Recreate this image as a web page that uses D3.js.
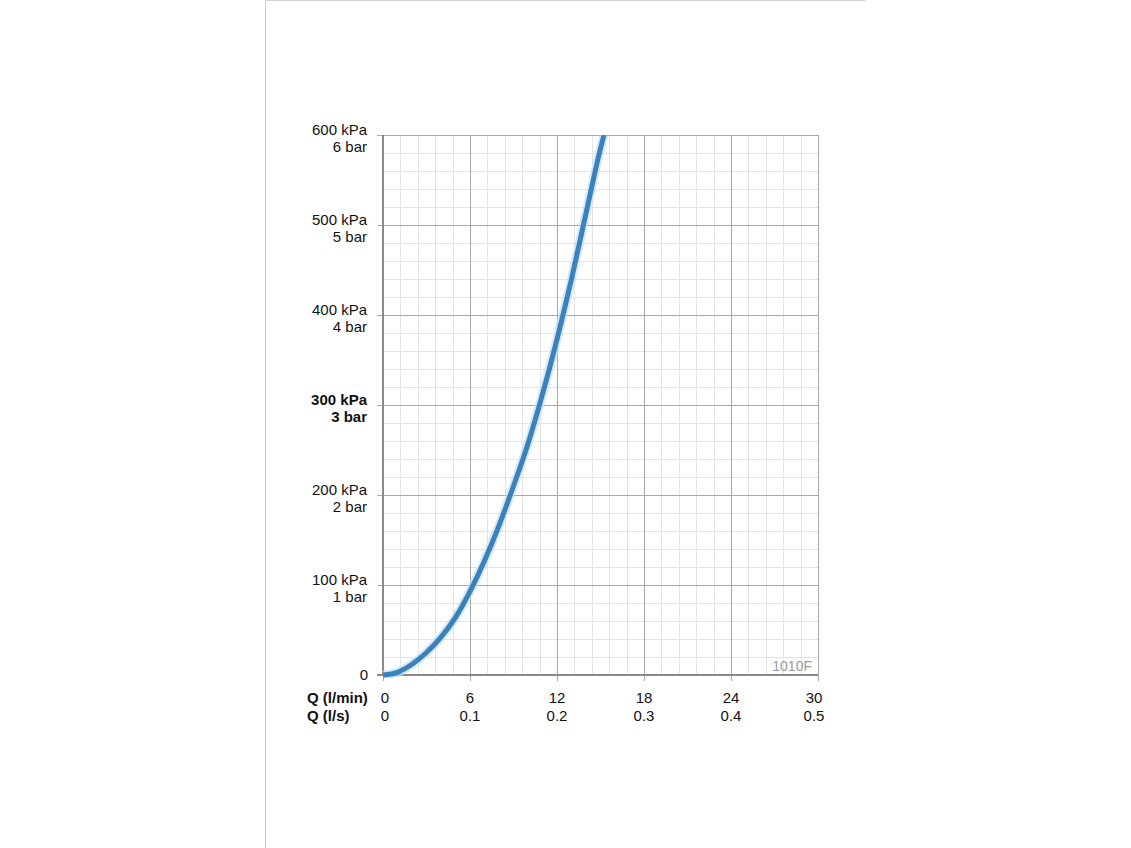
<!DOCTYPE html>
<html>
<head>
<meta charset="utf-8">
<script src="https://cdn.jsdelivr.net/npm/d3@7/dist/d3.min.js"></script>
<style>
  html, body { margin: 0; padding: 0; background: #ffffff; }
  svg { display: block; }
  text { font-family: "Liberation Sans", Arial, Helvetica, sans-serif; }
</style>
</head>
<body>
<svg id="chart" width="1131" height="848"></svg>
<script>
// ---- Data ----
const flowLpm = [0, 1, 2, 3, 4, 5, 6, 7, 8, 9, 10, 11, 12, 13, 14, 15, 15.24];
const pressureKPa = [0, 3, 12, 25, 42, 64, 93, 127, 166, 210, 257, 312, 373, 440, 513, 585, 600];

const yTickKPa = [0, 100, 200, 300, 400, 500, 600];
const yTickKPaLabels = ["0", "100 kPa", "200 kPa", "300 kPa", "400 kPa", "500 kPa", "600 kPa"];
const yTickBarLabels = ["", "1 bar", "2 bar", "3 bar", "4 bar", "5 bar", "6 bar"];
const yBoldTick = 300;

const xTickLpm = [0, 6, 12, 18, 24, 30];
const xTickLpmLabels = ["0", "6", "12", "18", "24", "30"];
const xTickLpsLabels = ["0", "0.1", "0.2", "0.3", "0.4", "0.5"];
const xAxisTitles = ["Q (l/min)", "Q (l/s)"];
const modelLabel = "1010F";

// ---- Layout ----
const svg = d3.select("#chart");
const plot = { left: 383, right: 818, top: 135, bottom: 675 };

// page frame
svg.append("line").attr("x1", 265.5).attr("x2", 265.5).attr("y1", 0).attr("y2", 848)
  .attr("stroke", "#d0d0d0").attr("stroke-width", 1);
svg.append("line").attr("x1", 265).attr("x2", 865).attr("y1", 0.5).attr("y2", 0.5)
  .attr("stroke", "#d0d0d0").attr("stroke-width", 1);

const x = d3.scaleLinear().domain([0, 30]).range([plot.left, plot.right]);
const y = d3.scaleLinear().domain([0, 600]).range([plot.bottom, plot.top]);

const g = svg.append("g");

// minor grid
const minorX = d3.range(0, 30.0001, 1.2);
const minorY = d3.range(0, 600.0001, 20);
g.append("g").selectAll("line").data(minorX).join("line")
  .attr("x1", d => Math.round(x(d)) + 0.5).attr("x2", d => Math.round(x(d)) + 0.5)
  .attr("y1", plot.top).attr("y2", plot.bottom)
  .attr("stroke", "#e4e4e4").attr("stroke-width", 1);
g.append("g").selectAll("line").data(minorY).join("line")
  .attr("y1", d => Math.round(y(d)) + 0.5).attr("y2", d => Math.round(y(d)) + 0.5)
  .attr("x1", plot.left).attr("x2", plot.right)
  .attr("stroke", "#e4e4e4").attr("stroke-width", 1);

// major grid
g.append("g").selectAll("line").data(xTickLpm).join("line")
  .attr("x1", d => Math.round(x(d)) + 0.5).attr("x2", d => Math.round(x(d)) + 0.5)
  .attr("y1", plot.top).attr("y2", plot.bottom + 6)
  .attr("stroke", "#a8a8a8").attr("stroke-width", 1);
g.append("g").selectAll("line").data(yTickKPa).join("line")
  .attr("y1", d => Math.round(y(d)) + 0.5).attr("y2", d => Math.round(y(d)) + 0.5)
  .attr("x1", plot.left - 6).attr("x2", plot.right)
  .attr("stroke", "#a8a8a8").attr("stroke-width", 1);

// axes
g.append("line").attr("x1", plot.left).attr("x2", plot.left)
  .attr("y1", plot.top).attr("y2", plot.bottom + 1)
  .attr("stroke", "#8a8a8a").attr("stroke-width", 2);
g.append("line").attr("x1", plot.left - 6).attr("x2", plot.right)
  .attr("y1", plot.bottom).attr("y2", plot.bottom)
  .attr("stroke", "#8a8a8a").attr("stroke-width", 2);

// curve
const pts = flowLpm.map((q, i) => [q, pressureKPa[i]]);
const line = d3.line().x(d => x(d[0])).y(d => y(d[1])).curve(d3.curveMonotoneX);
svg.append("clipPath").attr("id", "clip").append("rect")
  .attr("x", plot.left - 2).attr("y", plot.top).attr("width", plot.right - plot.left + 4).attr("height", plot.bottom - plot.top + 3);
g.append("path").datum(pts).attr("d", line).attr("fill", "none")
  .attr("stroke", "#c3def4").attr("stroke-width", 9).attr("stroke-opacity", 0.7)
  .attr("clip-path", "url(#clip)");
g.append("path").datum(pts).attr("d", line).attr("fill", "none")
  .attr("stroke", "#3b82bc").attr("stroke-width", 5)
  .attr("clip-path", "url(#clip)");

// y labels
const yl = g.append("g").attr("font-size", 15).attr("fill", "#111").attr("text-anchor", "end");
yTickKPa.forEach((v, i) => {
  const bold = v === yBoldTick ? "bold" : "normal";
  if (v === 0) {
    yl.append("text").attr("x", 368).attr("y", y(v) + 5).text(yTickKPaLabels[i]);
  } else {
    yl.append("text").attr("x", 367).attr("y", y(v)).attr("font-weight", bold).text(yTickKPaLabels[i]);
    yl.append("text").attr("x", 367).attr("y", y(v) + 17).attr("font-weight", bold).text(yTickBarLabels[i]);
  }
});

// x labels
const xl = g.append("g").attr("font-size", 15).attr("fill", "#111").attr("text-anchor", "middle");
xTickLpm.forEach((v, i) => {
  const dx = i === 0 ? 2 : (i === xTickLpm.length - 1 ? -4 : 0);
  xl.append("text").attr("x", x(v) + dx).attr("y", 703).text(xTickLpmLabels[i]);
  xl.append("text").attr("x", x(v) + dx).attr("y", 721).text(xTickLpsLabels[i]);
});
g.append("text").attr("x", 307).attr("y", 703).attr("font-size", 15).attr("font-weight", "bold").attr("fill", "#111").text(xAxisTitles[0]);
g.append("text").attr("x", 307).attr("y", 721).attr("font-size", 15).attr("font-weight", "bold").attr("fill", "#111").text(xAxisTitles[1]);

// model label
g.append("text").attr("x", plot.right - 6).attr("y", 671).attr("text-anchor", "end")
  .attr("font-size", 14).attr("fill", "#9a9a9a").attr("font-family", "'Open Sans', 'Liberation Sans', sans-serif")
  .text(modelLabel);
</script>
</body>
</html>
